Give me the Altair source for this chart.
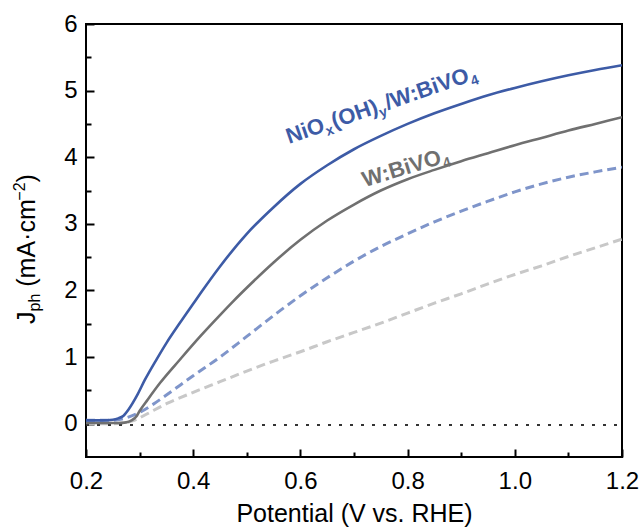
import altair as alt
import pandas as pd

FONT = "Liberation Sans"

# ---------------- data ----------------
NIOX_V = [0.20, 0.23, 0.25, 0.26, 0.27, 0.28, 0.295, 0.31, 0.332, 0.35, 0.375, 0.40, 0.413,
          0.45, 0.50, 0.55, 0.60, 0.65, 0.70, 0.75, 0.80, 0.85, 0.90, 0.95, 1.00, 1.05,
          1.10, 1.15, 1.20]
NIOX_J = [0.05, 0.05, 0.06, 0.08, 0.12, 0.22, 0.42, 0.66, 0.97, 1.21, 1.51, 1.80, 1.95,
          2.36, 2.85, 3.25, 3.60, 3.88, 4.12, 4.32, 4.50, 4.66, 4.80, 4.93, 5.04, 5.14,
          5.23, 5.31, 5.38]

BVO_V = [0.20, 0.23, 0.26, 0.275, 0.285, 0.295, 0.30, 0.315, 0.338, 0.375, 0.413, 0.45,
         0.475, 0.50, 0.55, 0.60, 0.65, 0.70, 0.75, 0.80, 0.85, 0.90, 0.95, 1.00, 1.05,
         1.10, 1.15, 1.20]
BVO_J = [0.01, 0.01, 0.01, 0.02, 0.05, 0.12, 0.19, 0.36, 0.61, 0.96, 1.31, 1.63,
         1.84, 2.04, 2.42, 2.76, 3.05, 3.29, 3.50, 3.67, 3.81, 3.94, 4.06, 4.18, 4.29,
         4.40, 4.50, 4.60]

NIOX_DARK_V = [0.20, 0.25, 0.276, 0.30, 0.325, 0.35, 0.40, 0.45, 0.50, 0.556, 0.60, 0.65,
               0.70, 0.75, 0.80, 0.85, 0.90, 0.95, 1.00, 1.05, 1.10, 1.15, 1.20]
NIOX_DARK_J = [0.05, 0.05, 0.09, 0.17, 0.29, 0.43, 0.72, 1.00, 1.31, 1.66, 1.92, 2.19,
               2.44, 2.66, 2.85, 3.03, 3.19, 3.34, 3.48, 3.60, 3.70, 3.78, 3.85]

BVO_DARK_V = [0.20, 0.25, 0.27, 0.29, 0.31, 0.35, 0.40, 0.45, 0.50, 0.55, 0.60, 0.65,
              0.70, 0.75, 0.80, 0.85, 0.90, 0.95, 1.00, 1.05, 1.10, 1.15, 1.20]
BVO_DARK_J = [0.00, 0.00, 0.01, 0.05, 0.13, 0.30, 0.47, 0.63, 0.79, 0.94, 1.08, 1.23,
              1.37, 1.51, 1.66, 1.81, 1.95, 2.10, 2.24, 2.37, 2.51, 2.64, 2.77]

ZERO_V = [0.20, 1.20]
ZERO_J = [-0.02, -0.02]

X_MAJOR = [0.2, 0.4, 0.6, 0.8, 1.0, 1.2]
X_MINOR = [0.3, 0.5, 0.7, 0.9, 1.1]
Y_MAJOR = [0, 1, 2, 3, 4, 5, 6]
Y_MINOR = [0.5, 1.5, 2.5, 3.5, 4.5, 5.5]

LABEL_NIOX = [("NiO", "big"), ("x", "sub"), ("(OH)", "big"), ("y", "sub"),
              ("/W:BiVO", "big"), ("4", "sub")]
LABEL_BVO = [("W:BiVO", "big"), ("4", "sub")]
YTITLE = [("J", "big"), ("ph", "sub"), ("(mA\u00b7cm", "bigsp"), ("\u22122", "sup"),
          (")", "big")]

# ---------------- styling ----------------
W, H = 536, 433
C_NIOX = "#3D5BA6"
C_BVO = "#707070"
C_NIOX_D = "#7F95CA"
C_BVO_D = "#C8C8C8"
C_ZERO = "#333333"

xs = alt.Scale(domain=[0.2, 1.2], nice=False, zero=False)
ys = alt.Scale(domain=[-0.5, 6], nice=False, zero=False)

# approximate Arial / Liberation Sans advance widths (per 1000 em)
BOLD_W = {"N": 722, "i": 278, "O": 778, "x": 556, "(": 333, "H": 722, ")": 333, "y": 556,
          "/": 278, "W": 944, ":": 333, "B": 722, "V": 667, "4": 556}
REG_W = {"J": 500, "p": 556, "h": 556, " ": 278, "(": 333, "m": 833,
         "A": 667, "\u00b7": 278, "c": 500, "\u2212": 584, "2": 556, ")": 333}


def tw(s, size, table):
    return sum(table.get(ch, 556) for ch in s) * size / 1000.0


def line(v, j, color, width, dash=None, x_axis=None, y_axis=None, opacity=1.0):
    df = pd.DataFrame({"V": v, "J": j})
    kw = dict(color=color, strokeWidth=width, interpolate="monotone", clip=True,
              opacity=opacity)
    if dash:
        kw["strokeDash"] = dash
    return alt.Chart(df).mark_line(**kw).encode(
        x=alt.X("V:Q", scale=xs, axis=x_axis),
        y=alt.Y("J:Q", scale=ys, axis=y_axis),
    )


x_main = alt.Axis(values=X_MAJOR, format=".1f", orient="bottom", domain=False, ticks=False,
                  tickSize=0, grid=False, labelFont=FONT, labelFontSize=24, labelColor="black",
                  labelPadding=12, labelFlush=False, labelOverlap=False,
                  title="Potential (V vs. RHE)", titleFont=FONT, titleFontSize=25,
                  titleFontWeight="normal", titleColor="black", titlePadding=8)
y_main = alt.Axis(values=Y_MAJOR, format="d", orient="left", domain=False, ticks=False,
                  tickSize=0, grid=False, labelFont=FONT, labelFontSize=24, labelColor="black",
                  labelPadding=9, labelFlush=False, labelOverlap=False, title="")


def tick_axis_x(vals, size):
    return alt.Axis(values=vals, orient="top", offset=-H, labels=False, domain=False,
                    ticks=True, tickSize=size, tickWidth=2, tickColor="black", grid=False,
                    title="")


def tick_axis_y(vals, size):
    return alt.Axis(values=vals, orient="right", offset=-W, labels=False, domain=False,
                    ticks=True, tickSize=size, tickWidth=2, tickColor="black", grid=False,
                    title="")


layers = [
    line(BVO_DARK_V, BVO_DARK_J, C_BVO_D, 3, [9, 5], x_axis=x_main, y_axis=y_main),
    line(NIOX_DARK_V, NIOX_DARK_J, C_NIOX_D, 3, [9, 5], x_axis=None, y_axis=None),
    line(ZERO_V, ZERO_J, C_ZERO, 2, [3, 8], x_axis=tick_axis_x(X_MAJOR, 8),
         y_axis=tick_axis_y(Y_MAJOR, 8)),
    line(ZERO_V, ZERO_J, C_ZERO, 0.1, None, x_axis=tick_axis_x(X_MINOR, 5),
         y_axis=tick_axis_y(Y_MINOR, 5), opacity=0),
    line(BVO_V, BVO_J, C_BVO, 2.6, x_axis=None, y_axis=None),
    line(NIOX_V, NIOX_J, C_NIOX, 2.6, x_axis=None, y_axis=None),
]


def rotated_label(pieces, v, j, angle, color, big, small, sub_dy, table):
    out = []
    dx = 0.0
    df = pd.DataFrame({"V": [v], "J": [j]})
    for txt, kind in pieces:
        size = big if kind == "big" else small
        dy = 0 if kind == "big" else sub_dy
        out.append(
            alt.Chart(df).mark_text(text=txt, font=FONT, fontSize=size, fontWeight="bold",
                                    color=color, angle=angle, align="left",
                                    baseline="alphabetic", dx=dx, dy=dy).encode(
                x=alt.X("V:Q", scale=xs, axis=None),
                y=alt.Y("J:Q", scale=ys, axis=None),
            )
        )
        dx += tw(txt, size, table) + (1.0 if kind == "sub" else 0.0)
    return out


layers += rotated_label(LABEL_NIOX, 0.5787, 4.20, 341, C_NIOX, 22, 14, 5, BOLD_W)
layers += rotated_label(LABEL_BVO, 0.7200, 3.55, 343, C_BVO, 22, 14, 5, BOLD_W)

# y-axis title, built from pieces so that sub/superscripts are real text
dx = 0.0
ydf = pd.DataFrame({"k": [0]})
for txt, kind in YTITLE:
    size = 16 if kind in ("sub", "sup") else 25
    if kind == "bigsp":
        dx += tw(" ", size, REG_W)
    dy = {"big": 0, "bigsp": 0, "sub": 5, "sup": -10}[kind]
    layers.append(
        alt.Chart(ydf).mark_text(text=txt, font=FONT, fontSize=size, color="black",
                                 angle=270, align="left", baseline="alphabetic",
                                 dx=dx, dy=dy).encode(
            x=alt.value(-51), y=alt.value(300)
        )
    )
    dx += tw(txt, size, REG_W)

chart = (
    alt.layer(*layers)
    .resolve_axis(x="independent", y="independent")
    .properties(width=W, height=H,
                autosize=alt.AutoSizeParams(type="none"),
                padding={"left": 86, "top": 24, "right": 20, "bottom": 73},
                background="white")
    .configure_view(stroke="black", strokeWidth=2)
)

chart.save("out.html", embed_options={"renderer": "svg", "actions": False})
